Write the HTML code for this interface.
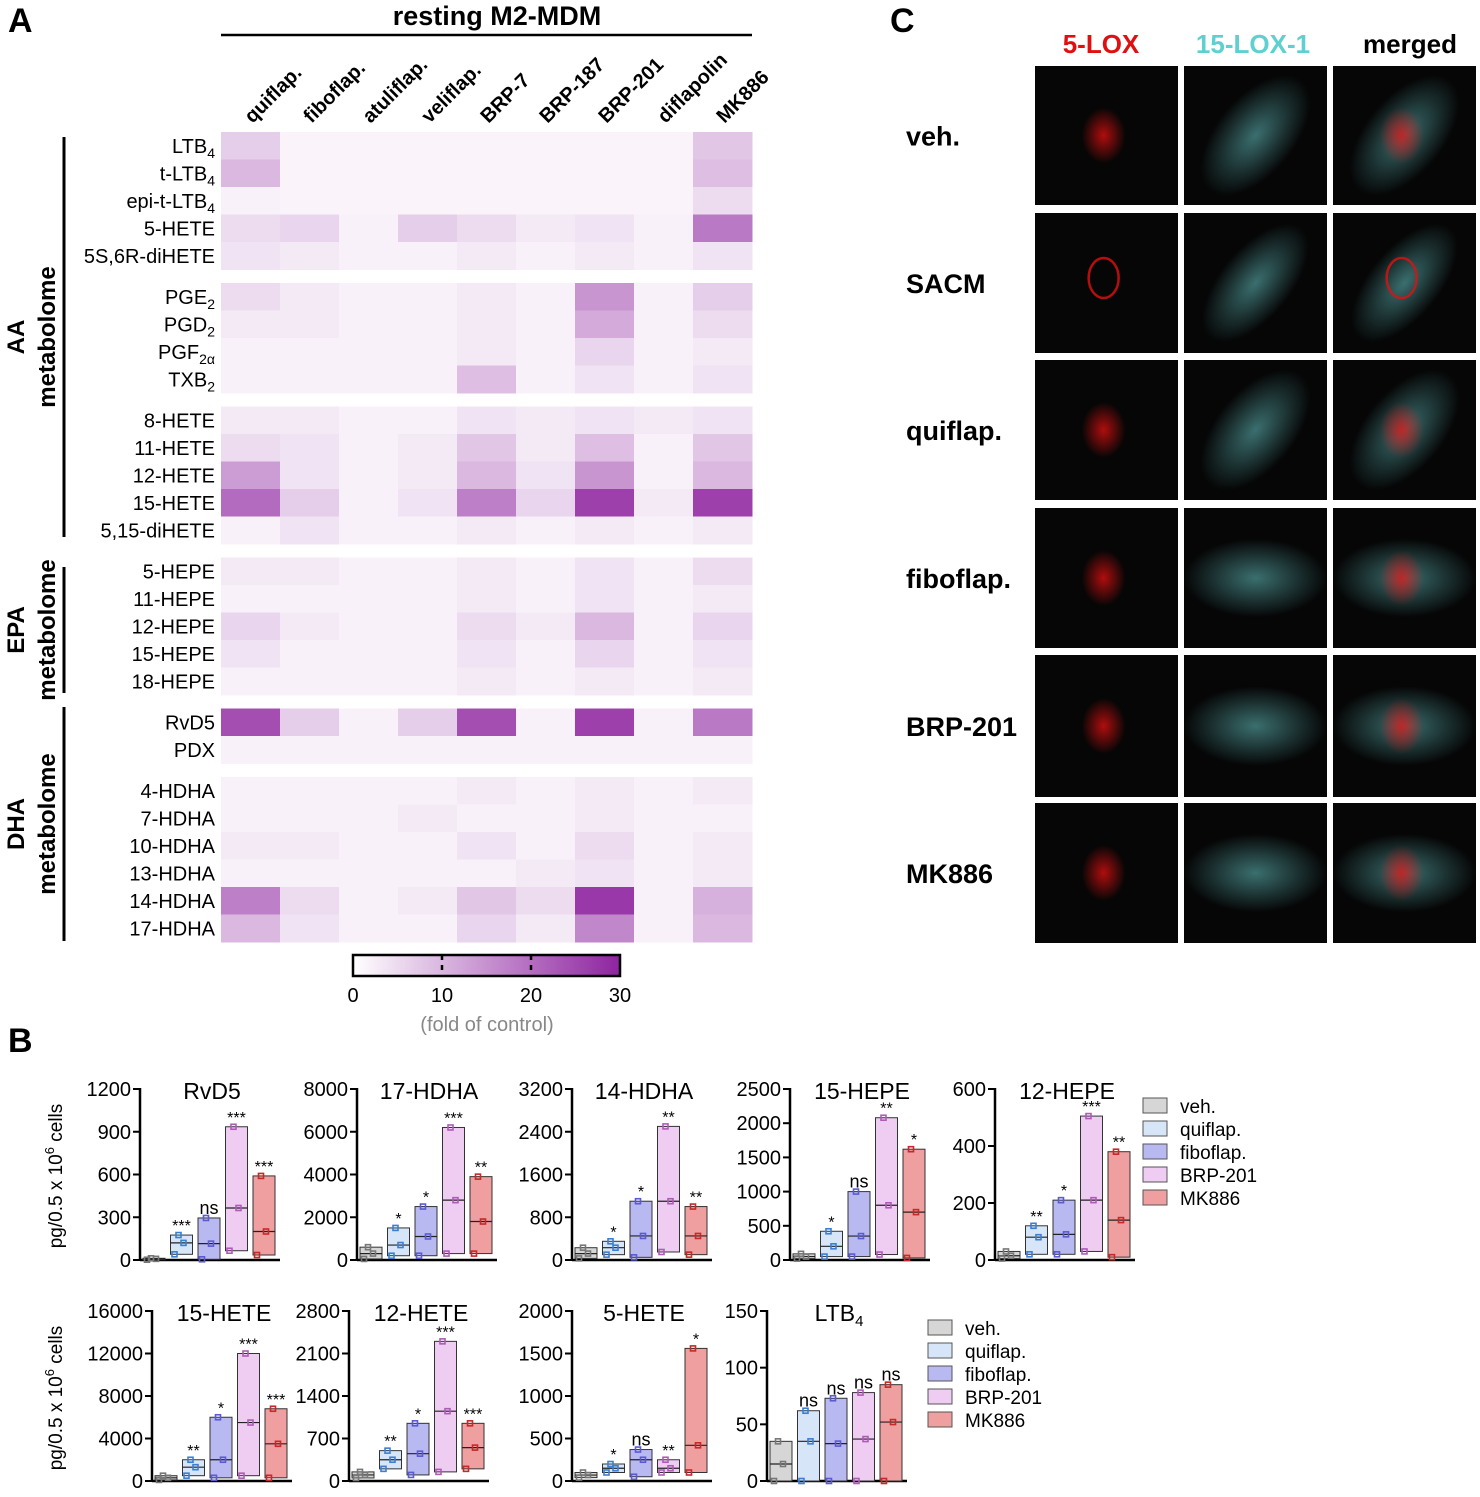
<!DOCTYPE html>
<html><head><meta charset="utf-8">
<style>
body{margin:0;background:#fff;width:1480px;height:1492px;overflow:hidden;font-family:"Liberation Sans",Arial,sans-serif}
svg text{font-family:"Liberation Sans",Arial,sans-serif}
</style></head>
<body>
<svg id="fig" width="1480" height="1492" viewBox="0 0 1480 1492" xmlns="http://www.w3.org/2000/svg">
<text x="8" y="32" font-size="34" font-weight="bold">A</text>
<text x="8" y="1052" font-size="34" font-weight="bold">B</text>
<text x="890" y="32" font-size="34" font-weight="bold">C</text>
<text x="497" y="25" font-size="27" font-weight="bold" text-anchor="middle">resting M2-MDM</text>
<line x1="221" y1="35" x2="752" y2="35" stroke="#000" stroke-width="2.5"/>
<g id="heat"></g>
<g id="cbar"></g>
<g id="micro"></g>
<g id="bars"></g>
</svg>
<script>
const NS='http://www.w3.org/2000/svg';
function mk(tag,attrs,parent,txt){const e=document.createElementNS(NS,tag);for(const k in attrs)e.setAttribute(k,attrs[k]);if(txt!==undefined)e.textContent=txt;parent.appendChild(e);return e;}

// ---- Heatmap data ----
const heatCols=['quiflap.','fiboflap.','atuliflap.','veliflap.','BRP-7','BRP-187','BRP-201','diflapolin','MK886'];
const heatRows=['LTB4','t-LTB4','epi-t-LTB4','5-HETE','5S,6R-diHETE','PGE2','PGD2','PGF2α','TXB2','8-HETE','11-HETE','12-HETE','15-HETE','5,15-diHETE','5-HEPE','11-HEPE','12-HEPE','15-HEPE','18-HEPE','RvD5','PDX','4-HDHA','7-HDHA','10-HDHA','13-HDHA','14-HDHA','17-HDHA'];
const rowLabelHtml=[['LTB','4'],['t-LTB','4'],['epi-t-LTB','4'],['5-HETE'],['5S,6R-diHETE'],['PGE','2'],['PGD','2'],['PGF','2α'],['TXB','2'],['8-HETE'],['11-HETE'],['12-HETE'],['15-HETE'],['5,15-diHETE'],['5-HEPE'],['11-HEPE'],['12-HEPE'],['15-HEPE'],['18-HEPE'],['RvD5'],['PDX'],['4-HDHA'],['7-HDHA'],['10-HDHA'],['13-HDHA'],['14-HDHA'],['17-HDHA']];
const rowGroupBreaks=[5,9,14,19,21];
const heatValues=[
[6,0.5,0.5,0.5,0.5,0.5,0.5,0.5,7],
[9,0.5,0.5,0.5,0.5,0.5,0.5,0.5,8],
[1,0.5,0.5,0.5,0.5,0.5,0.5,0.5,4],
[4,5,1,6,4,2,3,1,18],
[3,2,1,1,2,1,2,1,3],
[4,2,1,1,2,1,14,1,6],
[2,2,1,1,2,1,11,1,4],
[1,1,1,1,2,1,5,1,2],
[1,1,1,1,8,1,3,1,3],
[2,2,1,1,3,2,3,2,3],
[4,3,1,2,7,2,8,1,7],
[13,3,1,2,9,3,14,1,9],
[20,6,1,3,17,5,26,2,26],
[1,3,1,1,2,1,2,1,2],
[2,2,1,1,2,1,3,1,4],
[1,1,1,1,2,1,3,1,2],
[5,2,1,1,4,2,9,1,5],
[3,1,1,1,3,1,5,1,3],
[1,1,1,1,2,1,2,1,2],
[24,6,1,6,24,1,26,1,18],
[1,1,1,1,1,1,1,1,1],
[1,1,1,1,2,1,2,1,2],
[1,1,1,2,1,1,2,1,1],
[2,2,1,1,3,1,4,1,2],
[1,1,1,1,1,2,3,1,2],
[17,4,1,2,7,4,27,1,10],
[9,3,1,1,5,2,16,1,9]];
const cbTicks=[0,10,20,30];

function heatColor(v){const t=Math.max(0,Math.min(1,(v+1)/31));const a=[255,255,255],b=[142,36,160];
return 'rgb('+a.map((c,i)=>Math.round(c+(b[i]-c)*t)).join(',')+')';}
const hx0=221,cw=59,rh=27.5,gap=13.5,hy0=132;
function rowY(i){let g=rowGroupBreaks.filter(b=>i>=b).length;return hy0+i*rh+g*gap;}
const heat=document.getElementById('heat');
heatRows.forEach((r,i)=>{
  heatCols.forEach((c,j)=>{
    const e=mk('rect',{x:hx0+j*cw,y:rowY(i),width:cw+0.5,height:rh+0.5,fill:heatColor(heatValues[i][j])},heat);
    
    
  });
  const t=mk('text',{x:215,y:rowY(i)+rh/2+7,'font-size':20,'text-anchor':'end'},heat);
  
  
  const p=rowLabelHtml[i];mk('tspan',{},t,p[0]);if(p[1])mk('tspan',{'font-size':14,dy:5},t,p[1]);
});
heatCols.forEach((c,j)=>{
  const cx=hx0+j*cw+cw/2+2, cy=124;
  const t=mk('text',{x:cx,y:cy,'font-size':20,'font-weight':'bold',transform:'rotate(-45 '+cx+' '+cy+')'},heat,c);
  
  
});
const groups=[['AA','metabolome',137,537],['EPA','metabolome',567,693],['DHA','metabolome',707,941]];
groups.forEach(g=>{
  const l=mk('line',{x1:64,y1:g[2],x2:64,y2:g[3],stroke:'#000','stroke-width':3},heat);
  
  const cy=(g[2]+g[3])/2;
  const t=mk('text',{x:0,y:0,'font-size':24,'font-weight':'bold','text-anchor':'middle',transform:'translate(24 '+cy+') rotate(-90)'},heat,g[0]);
  
  const t2=mk('text',{x:0,y:0,'font-size':24,'font-weight':'bold','text-anchor':'middle',transform:'translate(55 '+cy+') rotate(-90)'},heat,g[1]);
  
});
const cb=document.getElementById('cbar');
const defs=mk('defs',{},cb);const lg=mk('linearGradient',{id:'cg',x1:0,x2:1,y1:0,y2:0},defs);
mk('stop',{offset:'0','stop-color':'#fff'},lg);mk('stop',{offset:'1','stop-color':'#8e24a0'},lg);
const cbx0=353,cbx1=620;
mk('rect',{x:cbx0,y:955,width:cbx1-cbx0,height:21,fill:'url(#cg)',stroke:'#000','stroke-width':2.5},cb);
cbTicks.forEach(v=>{
  const x=cbx0+(cbx1-cbx0)*v/30;
  if(v>0&&v<30)mk('line',{x1:x,y1:955,x2:x,y2:976,stroke:'#000','stroke-width':2.5,'stroke-dasharray':'5 5'},cb);
  const t=mk('text',{x:x,y:1002,'font-size':20,'text-anchor':'middle'},cb,String(v));
  
});
mk('text',{x:487,y:1031,'font-size':20,'text-anchor':'middle',fill:'#888'},cb,'(fold of control)');

// ---- Microscopy ----
const micro=document.getElementById('micro');
const mCols=[1035,1184,1333],mW=143;
const mRows=[[66,205],[213,353],[360,500],[508,648],[655,797],[803,943]];
const mRowLabels=['veh.','SACM','quiflap.','fiboflap.','BRP-201','MK886'];
const hdr=[['5-LOX','#e01010',1101],['15-LOX-1','#5fd0d0',1253],['merged','#000',1410]];
hdr.forEach(h=>{const t=mk('text',{x:h[2],y:53,'font-size':26,'font-weight':'bold','text-anchor':'middle',fill:h[1]},micro,h[0]);
 });
const md=mk('defs',{},micro);
const rg=mk('radialGradient',{id:'rr'},md);mk('stop',{offset:'0','stop-color':'#e81010','stop-opacity':'0.75'},rg);mk('stop',{offset:'1','stop-color':'#e81010','stop-opacity':'0'},rg);
const cg=mk('radialGradient',{id:'cc'},md);mk('stop',{offset:'0','stop-color':'#70d8d8','stop-opacity':'0.5'},cg);mk('stop',{offset:'1','stop-color':'#70d8d8','stop-opacity':'0'},cg);
mRows.forEach((r,i)=>{
  const t=mk('text',{x:906,y:(r[0]+r[1])/2+10,'font-size':27,'font-weight':'bold'},micro,mRowLabels[i]);
  
  mCols.forEach((x,j)=>{
    const h=r[1]-r[0];
    const im=mk('rect',{x:x,y:r[0],width:mW,height:h,fill:'#060606'},micro);
    
    const cx=x+mW*0.5,cy=r[0]+h*0.5;
    if(j===1||j===2){mk('ellipse',{cx:cx,cy:cy,rx:mW*0.5,ry:h*(i===1?0.25:0.28),fill:'url(#cc)',transform:(i<3?'rotate(-50 '+cx+' '+cy+')':'')},micro);}
    if(j===0||j===2){
      if(i===1){mk('ellipse',{cx:x+mW*0.48,cy:cy-5,rx:15,ry:20,fill:'none',stroke:'#e01010','stroke-width':2.5,opacity:0.8},micro);}
      else mk('ellipse',{cx:x+mW*0.48,cy:cy,rx:22,ry:28,fill:'url(#rr)'},micro);}
  });
});

// ---- Bar charts ----
const groupNames=['veh.','quiflap.','fiboflap.','BRP-201','MK886'];
const groupFill=['#d6d6d6','#d6e6f8','#b9b9f2','#efcdf2','#ef9f9f'];
const groupPt=['#777','#3a7fd6','#5a5ad6','#b05ab8','#c82828'];
const chartNames=['RvD5','17-HDHA','14-HDHA','15-HEPE','12-HEPE','15-HETE','12-HETE','5-HETE','LTB4'];
const chartMax=[1200,8000,3200,2500,600,16000,2800,2000,150];
const chartTicks=[[0,300,600,900,1200],[0,2000,4000,6000,8000],[0,800,1600,2400,3200],[0,500,1000,1500,2000,2500],[0,200,400,600],[0,4000,8000,12000,16000],[0,700,1400,2100,2800],[0,500,1000,1500,2000],[0,50,100,150]];
const statsRvD5=[[2,8,12],[40,120,175],[5,115,295],[65,365,935],[35,200,590]];
const stats17HDHA=[[50,300,600],[200,700,1500],[200,1100,2500],[300,2800,6200],[300,1800,3900]];
const stats14HDHA=[[30,120,230],[100,230,350],[50,450,1100],[150,1100,2500],[100,450,1000]];
const stats15HEPE=[[20,50,90],[50,200,420],[50,350,1000],[80,800,2080],[30,700,1620]];
const stats12HEPE=[[5,15,30],[20,80,120],[20,90,210],[30,210,505],[10,140,380]];
const stats15HETE=[[100,300,500],[500,1300,2000],[300,2000,6000],[500,5500,12000],[300,3500,6800]];
const stats12HETE=[[50,100,150],[200,350,500],[100,450,950],[150,1150,2300],[200,550,950]];
const stats5HETE=[[40,70,100],[100,150,200],[50,250,370],[100,150,250],[100,420,1560]];
const statsLTB4=[[0,15,35],[0,35,62],[0,33,73],[0,37,78],[0,52,85]];
const chartStats=[statsRvD5,stats17HDHA,stats14HDHA,stats15HEPE,stats12HEPE,stats15HETE,stats12HETE,stats5HETE,statsLTB4];
const chartSig=[['','***','ns','***','***'],['','*','*','***','**'],['','*','*','**','**'],['','*','ns','**','*'],['','**','*','***','**'],['','**','*','***','***'],['','**','*','***','***'],['','*','ns','**','*'],['','ns','ns','ns','ns']];
const chartAxisX=[140,357,572,790,995,152,349,572,767];
const chartRow=[0,0,0,0,0,1,1,1,1];
const rowTop=[1089,1311],rowZero=[1260,1481];

const bars=document.getElementById('bars');
chartNames.forEach((name,ci)=>{
  const ax=chartAxisX[ci],r=chartRow[ci],y0=rowZero[r],y1=rowTop[r];
  const ys=v=>y0-(y0-y1)*v/chartMax[ci];
  const g=mk('g',{},bars);
  
  mk('line',{x1:ax,y1:y1-1,x2:ax,y2:y0+1,stroke:'#000','stroke-width':2.5},g);
  mk('line',{x1:ax,y1:y0,x2:ax+140,y2:y0,stroke:'#000','stroke-width':2.5},g);
  chartTicks[ci].forEach(v=>{
    mk('line',{x1:ax-7,y1:ys(v),x2:ax,y2:ys(v),stroke:'#000','stroke-width':2},g);
    const t=mk('text',{x:ax-9,y:ys(v)+7,'font-size':20,'text-anchor':'end'},g,String(v));
    
  });
  const tt=mk('text',{x:ax+72,y:y1+10,'font-size':23,'text-anchor':'middle'},g);
  
  if(name==='LTB4'){mk('tspan',{},tt,'LTB');mk('tspan',{'font-size':15,dy:5},tt,'4');}else tt.textContent=name;
  chartStats[ci].forEach((s,gi)=>{
    const bx=ax+3+gi*27.5,bw=22;
    const b=mk('rect',{x:bx,y:ys(s[2]),width:bw,height:Math.max(1,ys(s[0])-ys(s[2])),fill:groupFill[gi],stroke:'#333','stroke-width':1},g);
    
    
    mk('line',{x1:bx,y1:ys(s[1]),x2:bx+bw,y2:ys(s[1]),stroke:'#222','stroke-width':1.2},g);
    [s[0],s[1],s[2]].forEach((v,k)=>{
      mk('rect',{x:bx+[4,13,8][k]-2.5,y:ys(v)-2.5,width:5,height:5,fill:'none',stroke:groupPt[gi],'stroke-width':1.6},g);
    });
    if(chartSig[ci][gi]){
      const st=mk('text',{x:bx+bw/2,y:ys(s[2])-4,'font-size':chartSig[ci][gi]==='ns'?18:16,'text-anchor':'middle'},g,chartSig[ci][gi]);
      
    }
  });
});
[[1176,'pg/0.5 x 10','6',' cells'],[1398,'pg/0.5 x 10','6',' cells']].forEach((a,i)=>{
  const t=mk('text',{x:0,y:0,'font-size':19,'text-anchor':'middle',transform:'translate(62 '+a[0]+') rotate(-90)'},bars);
  
  mk('tspan',{},t,a[1]);mk('tspan',{'font-size':13,dy:-8},t,a[2]);mk('tspan',{dy:8},t,a[3]);
});
[[1143,1106],[928,1328]].forEach((p,li)=>{
  groupNames.forEach((n,gi)=>{
    const y=p[1]+gi*23;
    const r=mk('rect',{x:p[0],y:y-8,width:24,height:15,fill:groupFill[gi],stroke:'#555','stroke-width':1},bars);
    
    const t=mk('text',{x:p[0]+37,y:y+7,'font-size':19},bars,n);
    
  });
});
</script>
</body></html>
